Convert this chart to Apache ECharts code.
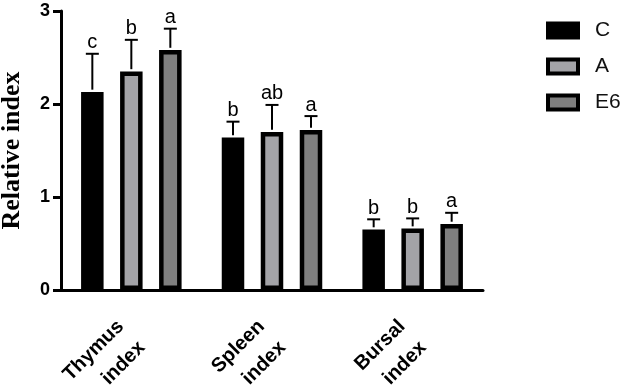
<!DOCTYPE html>
<html lang="en">
<head>
    <meta charset="UTF-8">
    <title>Relative index</title>
    <style>
        html, body { margin: 0; padding: 0; background: #fff; }
        #chart { width: 624px; height: 385px; }
    </style>
    <script src="https://cdn.jsdelivr.net/npm/echarts@6/dist/echarts.min.js"></script>
</head>
<body>
    <div id="chart"></div>
    <script>
        // data
        const categories = ['Thymus\nindex', 'Spleen\nindex', 'Bursal\nindex'];
        const groups = ['C', 'A', 'E6'];
        const meanC = [2.13, 1.64, 0.65];
        const meanA = [2.35, 1.70, 0.66];
        const meanE6 = [2.58, 1.72, 0.71];
        const errC = [0.41, 0.17, 0.11];
        const errA = [0.34, 0.29, 0.11];
        const errE6 = [0.23, 0.15, 0.12];
        const lettersC = ['c', 'b', 'b'];
        const lettersA = ['b', 'ab', 'b'];
        const lettersE6 = ['a', 'a', 'a'];
        const yTicks = [0, 1, 2, 3];

        const means = [meanC, meanA, meanE6];
        const errs = [errC, errA, errE6];
        const letters = [lettersC, lettersA, lettersE6];
        const fills = ['#000000', '#a3a3a7', '#7f7f7f'];

        const barW = 22.5;
        const border = 4.5;
        const step = 39;
        const barGap = (step - barW) / barW;
        const font = 'Arial, "Liberation Sans", sans-serif';

        const chart = echarts.init(document.getElementById('chart'));

        const barSeries = groups.map((g, i) => ({
            name: g,
            type: 'bar',
            data: means[i],
            barWidth: barW,
            barGap: (barGap * 100) + '%',
            itemStyle: { color: fills[i], borderColor: '#000', borderWidth: border },
            z: 2
        }));

        // error bars (upper only) with the significance letters on top
        const errSeries = groups.map((g, i) => ({
            name: g + '_err',
            type: 'custom',
            clip: false,
            z: 3,
            data: means[i].map((m, k) => [k, m, errs[i][k]]),
            renderItem: function (params, api) {
                const k = api.value(0);
                const m = api.value(1);
                const e = api.value(2);
                const base = api.coord([k, m]);
                const top = api.coord([k, m + e]);
                const x = base[0] + (i - 1) * step;
                const cap = 6.5;
                return {
                    type: 'group',
                    children: [
                        { type: 'line', shape: { x1: x, y1: base[1] - border / 2, x2: x, y2: top[1] },
                          style: { stroke: '#000', lineWidth: 2 } },
                        { type: 'line', shape: { x1: x - cap, y1: top[1], x2: x + cap, y2: top[1] },
                          style: { stroke: '#000', lineWidth: 2 } },
                        { type: 'text', x: x, y: top[1] - 1,
                          style: { text: letters[i][params.dataIndex], fill: '#000',
                                   font: '20px ' + font, align: 'center', verticalAlign: 'bottom' } }
                    ]
                };
            }
        }));

        chart.setOption({
            animation: false,
            grid: { left: 61, right: 141, top: 11, bottom: 95, outerBoundsMode: 'none' },
            legend: {
                orient: 'vertical',
                left: 546,
                top: 20,
                padding: 0,
                itemWidth: 30,
                itemHeight: 14,
                itemGap: 15,
                icon: 'rect',
                textStyle: { fontFamily: font, fontSize: 21, color: '#111', padding: [0, 0, 0, 12] },
                data: groups.map((g, i) => ({
                    name: g,
                    itemStyle: { color: fills[i], borderColor: '#000', borderWidth: 4 }
                }))
            },
            xAxis: {
                type: 'category',
                data: categories,
                axisLine: { lineStyle: { color: '#000', width: 3 } },
                axisTick: { alignWithLabel: true, length: 11, lineStyle: { color: '#000', width: 3 } },
                axisLabel: {
                    interval: 0, rotate: 45, margin: 44,
                    fontFamily: font, fontWeight: 'bold', fontSize: 20, color: '#000', lineHeight: 30
                }
            },
            yAxis: {
                type: 'value',
                min: yTicks[0],
                max: yTicks[yTicks.length - 1],
                interval: 1,
                name: 'Relative index',
                nameLocation: 'middle',
                nameGap: 36,
                nameTextStyle: { fontFamily: '"Liberation Serif", "Times New Roman", serif', fontWeight: 'bold', fontSize: 26, color: '#000' },
                axisLine: { show: true, lineStyle: { color: '#000', width: 3 } },
                axisTick: { show: true, length: 8, lineStyle: { color: '#000', width: 3 } },
                axisLabel: { margin: 11, fontFamily: font, fontWeight: 'bold', fontSize: 18, color: '#000' },
                splitLine: { show: false }
            },
            series: barSeries.concat(errSeries)
        });
    </script>
</body>
</html>
